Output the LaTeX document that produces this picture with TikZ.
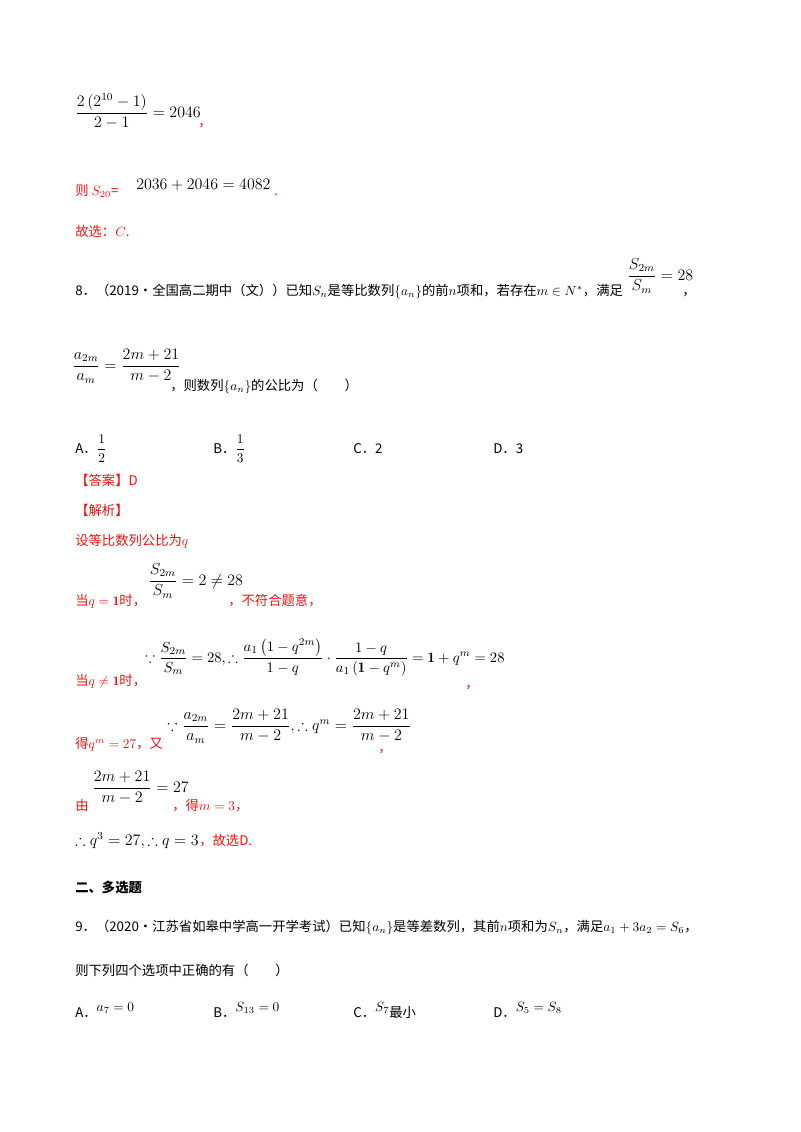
\documentclass[tikz,border=0pt]{standalone}
\usepackage{amsmath,amssymb}
\usepackage{fontspec}
\newfontfamily\cjk{Noto Sans CJK SC}
\definecolor{rd}{RGB}{235,20,20}
\begin{document}
\begin{tikzpicture}[x=0.75pt,y=-0.75pt,
  t/.style={anchor=base west,inner sep=0,font=\fontsize{10}{12}\selectfont\cjk},
  m/.style={anchor=base west,inner sep=0,font=\fontsize{11.5}{13}\selectfont},
  r/.style={t,text=rd}]
\useasboundingbox (0,0) rectangle (800,1132);
\fill[white] (0,0) rectangle (800,1132);
\node[m] (l1) at (75,117) {$\dfrac{2\left(2^{10}-1\right)}{2-1}=2046$};
\node[r] (l1c) at (198,126) {，};
\node[r] (l2) at (75,195) {则 $S_{20}$=};
\node[m] (l2m) at (136,189) {$2036+2046=4082$};
\node[r] (l2d) at (274,195) {.};
\node[r] (l3) at (75,236) {故选：$C$.};
\node[t] (q8) at (75,295) {8．（2019·全国高二期中（文））已知$S_n$是等比数列$\{a_n\}$的前$n$项和，若存在$m\in N^*$，满足};
\node[m] (q8f) at (627,280) {$\dfrac{S_{2m}}{S_m}=28$};
\node[t] (q8c) at (682,295) {，};
\node[m] (q8g) at (72,370) {$\dfrac{a_{2m}}{a_m}=\dfrac{2m+21}{m-2}$};
\node[t] (q8h) at (170,390) {，则数列$\{a_n\}$的公比为（　　）};
\node[t] (oA) at (75,453) {A．$\dfrac{1}{2}$};
\node[t] (oB) at (213,453) {B．$\dfrac{1}{3}$};
\node[t] (oC) at (353,453) {C．2};
\node[t] (oD) at (493,453) {D．3};
\node[r] (ans) at (75,485) {【答案】D};
\node[r] (jx) at (75,515) {【解析】};
\node[r] (s1) at (75,545) {设等比数列公比为$q$};
\node[r] (s2) at (75,605) {当$q=\mathbf{1}$时，};
\node[m] (s2m) at (148,585) {$\dfrac{S_{2m}}{S_m}=2\neq28$};
\node[r] (s2r) at (228,605) {，不符合题意，};
\node[r] (s3) at (75,685) {当$q\neq\mathbf{1}$时，};
\node[m,font=\fontsize{11}{13}\selectfont] (s3m) at (145,662) {$\because\dfrac{S_{2m}}{S_m}=28,\therefore\dfrac{a_1\left(1-q^{2m}\right)}{1-q}\cdot\dfrac{1-q}{a_1\left(\mathbf{1}-q^{m}\right)}=\mathbf{1}+q^m=28$};
\node[r] (s3c) at (465,688) {，};
\node[r] (s4) at (75,748) {得$q^m=27$，又};
\node[m] (s4m) at (167,730) {$\because\dfrac{a_{2m}}{a_m}=\dfrac{2m+21}{m-2},\therefore q^m=\dfrac{2m+21}{m-2}$};
\node[r] (s4c) at (378,752) {，};
\node[r] (s5) at (75,810) {由};
\node[m] (s5m) at (92,792) {$\dfrac{2m+21}{m-2}=27$};
\node[r] (s5r) at (172,810) {，得$m=3$，};
\node[m] (s6) at (75,845) {$\therefore q^3=27,\therefore q=3$};
\node[r] (s6r) at (199,845) {，故选D.};
\node[t,font=\fontsize{10}{12}\selectfont\cjk\bfseries] (h2) at (75,892) {二、多选题};
\node[t] (q9) at (75,931) {9．（2020·江苏省如皋中学高一开学考试）已知$\{a_n\}$是等差数列，其前$n$项和为$S_n$，满足$a_1+3a_2=S_6$，};
\node[t] (q9b) at (75,975) {则下列四个选项中正确的有（　　）};
\node[t] (pA) at (75,1017) {A．\raisebox{4pt}{$a_7=0$}};
\node[t] (pB) at (213,1017) {B．\raisebox{4pt}{$S_{13}=0$}};
\node[t] (pC) at (353,1017) {C．\raisebox{4pt}{$S_7$}最小};
\node[t] (pD) at (493,1017) {D．\raisebox{4pt}{$S_5=S_8$}};
\end{tikzpicture}
\end{document}
